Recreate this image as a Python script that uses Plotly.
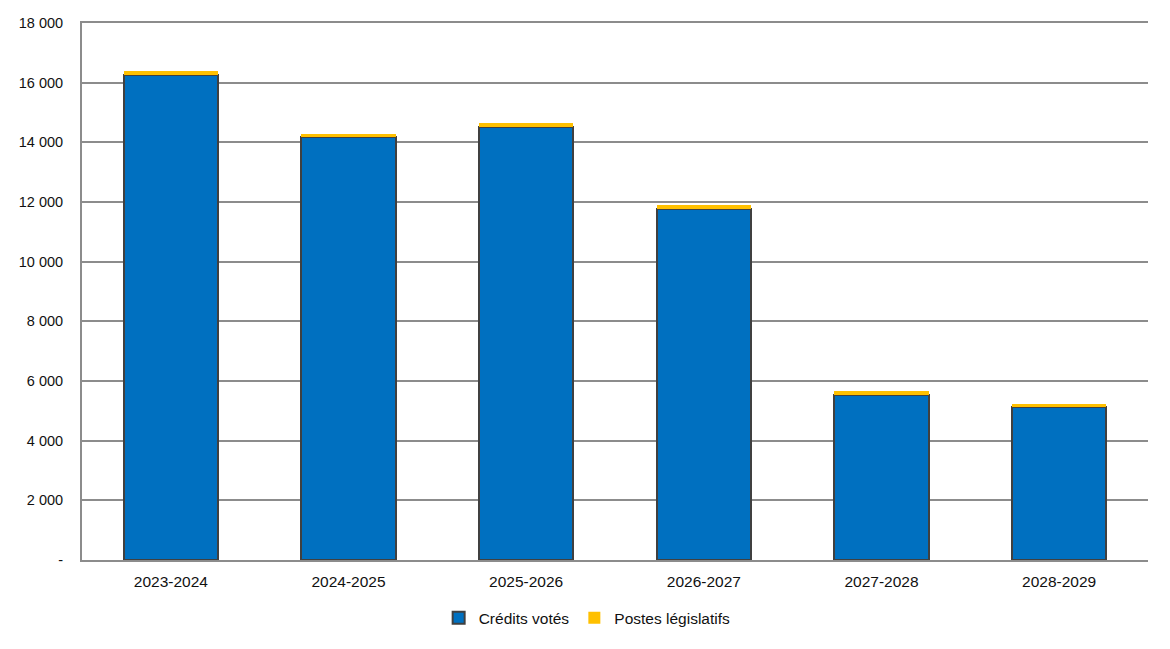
import plotly.graph_objects as go

# exercices and amounts
annees = ["2023-2024", "2024-2025", "2025-2026", "2026-2027", "2027-2028", "2028-2029"]
credits_votes = [16270, 14170, 14515, 11765, 5540, 5130]
postes_legislatifs = [115, 115, 120, 130, 140, 110]

y_ticks = [0, 2000, 4000, 6000, 8000, 10000, 12000, 14000, 16000, 18000]
y_labels = ["-", "2 000", "4 000", "6 000", "8 000", "10 000", "12 000", "14 000", "16 000", "18 000"]

grid_color = "#8c8c8c"

fig = go.Figure()
fig.add_trace(go.Bar(x=annees,
                     y=credits_votes,
                     name="Crédits votés",
                     marker={"color": "#0070C0",
                             "line": {"color": "#404040", "width": 2}}))
fig.add_trace(go.Bar(x=annees,
                     y=postes_legislatifs,
                     name="Postes législatifs",
                     marker={"color": "#FFC000",
                             "line": {"width": 0}}))

# page body has an 8px margin, so the margins below are offset by it
fig.update_layout(width=1170,
                  height=649,
                  barmode="stack",
                  bargap=0.47,
                  plot_bgcolor="white",
                  paper_bgcolor="white",
                  font={"family": "Liberation Sans, Arial, sans-serif", "size": 15, "color": "#111111"},
                  margin={"l": 74, "r": 30, "t": 15, "b": 97},
                  showlegend=True,
                  legend={"orientation": "h",
                          "xref": "container", "yref": "container",
                          "x": 0.495, "xanchor": "center",
                          "y": 0.06, "yanchor": "middle",
                          "font": {"size": 15.5},
                          "itemwidth": 30,
                          "traceorder": "normal"})

fig.update_xaxes(showline=True,
                 mirror=True,
                 linecolor=grid_color,
                 linewidth=2,
                 showgrid=False,
                 ticks="",
                 tickfont={"size": 15.5},
                 automargin=False,
                 ticklabelstandoff=6)
fig.update_yaxes(range=[0, 18000],
                 tickvals=y_ticks,
                 ticktext=y_labels,
                 showgrid=True,
                 gridcolor=grid_color,
                 gridwidth=2,
                 zeroline=False,
                 showline=True,
                 linecolor=grid_color,
                 linewidth=2,
                 ticks="",
                 tickfont={"size": 14.5},
                 automargin=False,
                 ticklabelstandoff=14)

fig.write_html("out.html")
